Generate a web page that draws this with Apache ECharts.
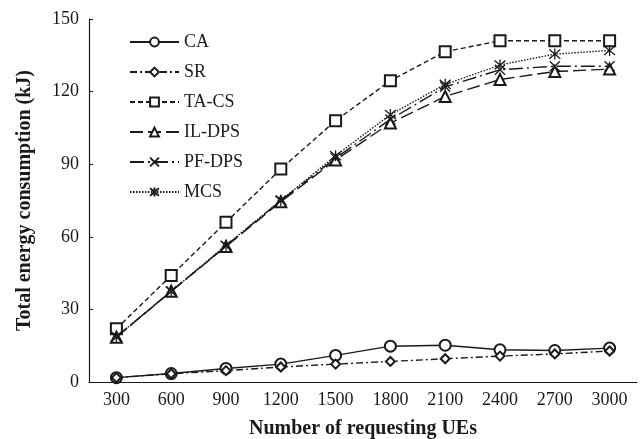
<!DOCTYPE html>
<html>
<head>
<meta charset="utf-8">
<script src="https://cdn.jsdelivr.net/npm/echarts@6/dist/echarts.min.js"></script>
<style>
  html, body { margin: 0; padding: 0; background: #fff; }
  #chart { width: 642px; height: 439px; }
</style>
</head>
<body>
<div id="chart"></div>
<script>
const categories = ['300', '600', '900', '1200', '1500', '1800', '2100', '2400', '2700', '3000'];

const caValues   = [1.8, 3.5, 5.6, 7.4, 11, 14.8, 15.2, 13.3, 13, 14];
const srValues   = [1.8, 3.4, 4.7, 6.2, 7.4, 8.5, 9.6, 10.7, 11.6, 12.8];
const tacsValues = [22, 44, 66, 88, 108, 124.5, 136.5, 141, 141, 141];
const ildpsValues = [18.5, 37.5, 56, 74.5, 91.7, 107, 118, 125, 128.3, 129.3];
const pfdpsValues = [18.7, 37.5, 56.2, 75, 92.5, 108.5, 122, 129, 130.5, 130.5];
const mcsValues  = [18.7, 37.5, 56.5, 75, 93.5, 110.5, 123, 131, 135.5, 137];

const yTicks = [0, 30, 60, 90, 120, 150];

const FONT = '"Liberation Serif", "DejaVu Serif", serif';
const INK = '#1a1a1a';

// path symbols are stroked only (fill white), the built-in empty* ones take the ink colour
const crossPath = 'path://M0,0L10,10M10,0L0,10';
const starPath = 'path://M0,0L10,10M10,0L0,10M5,-1L5,11';

function mkSeries(name, data, dash, symbol, size) {
    const isPath = symbol.indexOf('path://') === 0;
    return {
        name: name,
        type: 'line',
        data: data,
        symbol: symbol,
        symbolSize: size,
        showAllSymbol: true,
        lineStyle: { color: INK, width: 1.4, type: dash },
        itemStyle: isPath
            ? { color: '#fff', borderColor: INK, borderWidth: 1.3 }
            : { color: INK, borderColor: INK, borderWidth: 1.3 },
        emphasis: { disabled: true },
        z: 2
    };
}

const chart = echarts.init(document.getElementById('chart'));

chart.setOption({
    animation: false,
    backgroundColor: '#fff',
    grid: { left: 89, right: 5, top: 19, bottom: 57, containLabel: false, outerBoundsMode: 'none' },
    legend: {
        orient: 'vertical',
        left: 129,
        top: 33,
        padding: 0,
        itemWidth: 49,
        itemHeight: 11,
        itemGap: 12,
        textStyle: { fontFamily: FONT, fontSize: 18, color: INK },
        data: ['CA', 'SR', 'TA-CS', 'IL-DPS', 'PF-DPS', 'MCS']
    },
    xAxis: {
        type: 'category',
        data: categories,
        boundaryGap: true,
        name: 'Number of requesting UEs',
        nameLocation: 'middle',
        nameGap: 37,
        nameTextStyle: { fontFamily: FONT, fontSize: 20, fontWeight: 'bold', color: INK },
        axisLine: { lineStyle: { color: INK, width: 1.2 } },
        axisTick: { inside: true, length: 5, lineStyle: { color: INK } },
        axisLabel: { fontFamily: FONT, fontSize: 18, color: INK, margin: 9 },
        splitLine: { show: false }
    },
    yAxis: {
        type: 'value',
        min: yTicks[0],
        max: yTicks[yTicks.length - 1],
        interval: 30,
        name: 'Total energy consumption (kJ)',
        nameLocation: 'middle',
        nameGap: 54,
        nameTextStyle: { fontFamily: FONT, fontSize: 20, fontWeight: 'bold', color: INK },
        axisLine: { show: true, lineStyle: { color: INK, width: 1.2 } },
        axisTick: { show: true, inside: true, length: 4, lineStyle: { color: INK } },
        axisLabel: { fontFamily: FONT, fontSize: 18, color: INK, margin: 10 },
        splitLine: { show: false }
    },
    series: [
        mkSeries('CA', caValues, 'solid', 'emptyCircle', 11),
        mkSeries('SR', srValues, [7, 3, 2, 3], 'emptyDiamond', 9),
        mkSeries('TA-CS', tacsValues, [5, 3], 'emptyRect', 11),
        mkSeries('IL-DPS', ildpsValues, [13, 5], 'emptyTriangle', 11),
        mkSeries('PF-DPS', pfdpsValues, [14, 4, 2, 4], crossPath, 10),
        mkSeries('MCS', mcsValues, [1.5, 1.5], starPath, 11)
    ]
});
</script>
</body>
</html>
